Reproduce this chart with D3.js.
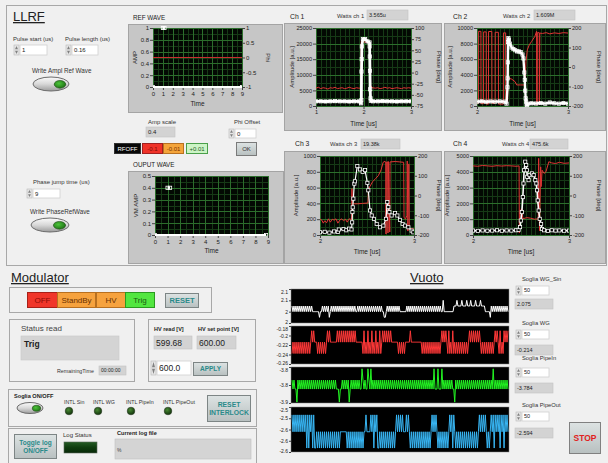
<!DOCTYPE html>
<html>
<head>
<meta charset="utf-8">
<script src="https://cdn.jsdelivr.net/npm/d3@7"></script>
<style>
html, body { margin: 0; padding: 0; background: #f0f0f0; }
svg { display: block; }
</style>
</head>
<body>
<script>
// ---------------- data ----------------
// Reference / output waves (time in us)
const refAmpPoints = [[1.0, 1], [1.16, 1], null, [0, 0], [9, 0]];
const refPhiPoints = [[0, 0], [9, 0]];
const outAmpPoints = [[1.0, 0.4], [1.2, 0.4], null, [0, 0], [8.85, 0]];
const refTimeTicks = [0, 1, 2, 3, 4, 5, 6, 7, 8, 9];
const refAmpTicks = [0, 0.2, 0.4, 0.6, 0.8, 1];
const refPhiTicks = [-1, -0.5, 0, 0.5, 1];
const outAmpTicks = [0, 0.1, 0.2, 0.3, 0.4, 0.5];

// Channel 1..4 pulses: [time us, amplitude a.u.] and [time us, phase deg]
const ch1AmpPoints = [[1.00,1500],[1.10,1500],[1.20,1450],[1.30,1500],[1.40,1550],[1.50,1500],[1.60,1500],[1.70,1450],[1.80,1500],[1.90,1500],[1.951,860],[1.955,1930],[1.958,11050],[1.962,15020],[1.965,19100],[1.986,21460],[2.035,21460],[2.085,20710],[2.127,20390],[2.129,19100],[2.132,15880],[2.136,11270],[2.141,5360],[2.148,2470],[2.155,1610],[2.20,1500],[2.30,1500],[2.40,1550],[2.50,1500],[2.60,1500],[2.70,1450],[2.80,1500],[2.90,1500],[3.00,1500]];
const ch1PhasePoints = [[1.00,-35],[1.05,-33],[1.10,-36],[1.15,-34],[1.20,-35],[1.25,-37],[1.30,-34],[1.35,-35],[1.40,-33],[1.45,-36],[1.50,-35],[1.55,-34],[1.60,-36],[1.65,-35],[1.70,-33],[1.75,-35],[1.80,-36],[1.85,-34],[1.90,-35],[1.945,-35],[1.952,70],[1.97,68],[2.00,69],[2.05,68],[2.10,67],[2.125,68],[2.14,-35],[2.16,-30],[2.18,-34],[2.25,-35],[2.30,-34],[2.35,-36],[2.40,-35],[2.45,-33],[2.50,-35],[2.55,-34],[2.60,-36],[2.65,-35],[2.70,-34],[2.75,-35],[2.80,-36],[2.85,-34],[2.90,-35],[2.95,-34],[3.00,-35]];
const ch2AmpPoints = [[2.00,560],[2.05,600],[2.10,550],[2.15,580],[2.20,560],[2.25,590],[2.30,560],[2.325,300],[2.335,2400],[2.337,3550],[2.339,5600],[2.341,8200],[2.345,8700],[2.35,8500],[2.36,8000],[2.38,7500],[2.40,7300],[2.42,7150],[2.44,7000],[2.46,7000],[2.48,6900],[2.50,6600],[2.51,6100],[2.52,4300],[2.525,3350],[2.53,1970],[2.535,990],[2.54,560],[2.545,200],[2.55,50],[2.56,300],[2.60,350],[2.65,320],[2.70,380],[2.75,300],[2.80,450],[2.85,350],[2.90,300],[2.95,380],[3.00,300]];
const ch2PhasePoints = [[2.000,-185],[2.017,-185],[2.018,183],[2.043,183],[2.044,-188],[2.072,-188],[2.073,180],[2.101,180],[2.102,-190],[2.126,-190],[2.127,182],[2.163,182],[2.164,-186],[2.199,-186],[2.200,178],[2.235,178],[2.236,-190],[2.290,-190],[2.291,175],[2.315,175],[2.316,-170],[2.337,-175],[2.340,20],[2.345,-57],[2.38,-62],[2.418,-75],[2.436,-92],[2.48,-92],[2.527,-92],[2.538,28],[2.553,88],[2.575,114],[2.600,131],[2.636,157],[2.655,183],[2.656,-195],[2.662,-195],[2.663,176],[2.684,176],[2.685,-195],[2.690,174],[2.72,172],[2.76,176],[2.80,170],[2.85,175],[2.90,172],[2.95,176],[3.000,174]];
const ch3AmpPoints = [[2.00,35],[2.05,40],[2.10,30],[2.15,45],[2.19,40],[2.20,70],[2.25,75],[2.28,60],[2.31,80],[2.335,70],[2.342,160],[2.345,290],[2.348,350],[2.355,460],[2.365,650],[2.372,680],[2.397,872],[2.426,830],[2.454,800],[2.479,821],[2.504,660],[2.514,566],[2.532,311],[2.55,247],[2.574,204],[2.603,140],[2.638,98],[2.674,119],[2.702,204],[2.716,417],[2.727,353],[2.738,289],[2.762,247],[2.798,277],[2.823,247],[2.851,191],[2.879,140],[2.904,119],[2.94,98],[2.975,55],[2.993,34]];
const ch3PhasePoints = [[2.00,-120],[2.02,-125],[2.035,-140],[2.05,-128],[2.07,-138],[2.09,-118],[2.11,-135],[2.13,-120],[2.15,-125],[2.17,-118],[2.19,-140],[2.21,-125],[2.23,-118],[2.25,-128],[2.27,-120],[2.29,-135],[2.31,-118],[2.335,-122],[2.340,35],[2.343,-20],[2.35,-42],[2.40,-42],[2.45,-40],[2.51,-38],[2.515,30],[2.53,45],[2.56,70],[2.59,85],[2.62,100],[2.65,130],[2.67,165],[2.68,172],[2.70,170],[2.702,-195],[2.705,168],[2.72,170],[2.723,-190],[2.727,172],[2.742,-185],[2.745,170],[2.80,172],[2.85,170],[2.89,168],[2.894,-110],[2.91,-120],[2.925,-100],[2.928,175],[2.935,-180],[2.945,160],[2.95,-170],[2.97,-168],[3.00,-170]];
const ch4AmpPoints = [[2.00,280],[2.05,260],[2.10,290],[2.15,270],[2.20,280],[2.25,300],[2.30,270],[2.35,290],[2.40,280],[2.45,300],[2.475,330],[2.49,500],[2.498,915],[2.509,1450],[2.519,2400],[2.526,3260],[2.533,4100],[2.544,4640],[2.554,4430],[2.561,4100],[2.565,3680],[2.579,3470],[2.589,3790],[2.614,3900],[2.632,3790],[2.649,3470],[2.66,3260],[2.667,2830],[2.674,2190],[2.684,1550],[2.695,1020],[2.709,700],[2.719,380],[2.74,300],[2.78,260],[2.82,300],[2.86,280],[2.90,290],[2.95,270],[3.00,280]];
const ch4PhasePoints = [[2.00,150],[2.05,148],[2.10,152],[2.15,150],[2.20,148],[2.25,151],[2.30,149],[2.35,151],[2.40,150],[2.45,148],[2.48,150],[2.483,-190],[2.49,-84],[2.505,-67],[2.52,-118],[2.56,-112],[2.60,-115],[2.64,-120],[2.68,-118],[2.684,188],[2.693,-178],[2.705,145],[2.71,45],[2.72,128],[2.74,112],[2.76,120],[2.79,171],[2.82,165],[2.86,162],[2.90,168],[2.95,163],[3.00,165]];

const ch1TimeTicks = [1, 2, 3];
const chTimeTicks = [2, 3];
const ch1AmpTicks = [0, 5000, 10000, 15000, 20000, 25000];
const ch1PhaseTicks = [-75, -50, -25, 0, 25, 50, 75, 100];
const ch2AmpTicks = [0, 2000, 4000, 6000, 8000, 10000];
const ch3AmpTicks = [0, 200, 400, 600, 800, 1000];
const ch4AmpTicks = [0, 1000, 2000, 3000, 4000, 5000];
const chPhaseTicks = [-200, -100, 0, 100, 200];

// Vacuum strip charts: one character per sample, indexing the level list
const vacTimeTicks = [74391, 77391];
const wgSinLevels = [2.07, 2.075, 2.08, 2.085];
const wgSinTrace = "2121212121212121212121" + "111111" + "01" + "12121212" + "01" +
  "2121212121212121212121212" + "1121212121212121212121212121" + "1001" + "21212121212121" + "111111" +
  "212121212121212121212121212121212121" + "13" + "1111111111" + "22232222322223222322223222232222" +
  "1111" + "10" + "212121212121212121";
const wgSinTicks = [2.095, 2.085, 2.075, 2.065];
const wgSinTickLabels = ["2.1", "2.1", "2", "2"];

const wgLevels = [-0.238, -0.214, -0.19];
const wgTrace = "01010101010101010101" + "2121" + "11" + "0101010101" + "2121" + "111111" + "21212121212121212121" +
  "111111" + "02010201020102010201" + "2121" + "212121" + "111111" + "01010101" + "1111211111111111" +
  "01010101010101010101" + "21212102010201" + "01010101010101" + "212121212121" + "01010101010101" + "21210201021212";
const wgTicks = [-0.18, -0.2, -0.22, -0.24, -0.26];
const wgTickLabels = ["-0.18", "-0.2", "-0.22", "-0.24", "-0.26"];

const pipeInLevels = [-3.848, -3.819, -3.799, -3.774];
const pipeInTrace = "2121" + "10" + "2121212121212121212121212121212121212121" + "11" + "01" + "12121212" + "01" +
  "2121212121" + "13" + "2121" + "13" + "21" + "31" +
  "2121212121" + "2121212121" + "2121212121" + "2121212121" + "2121212121" + "2121212121" + "21" +
  "31" + "11" + "31" + "11" + "31" + "2121212121" + "10" + "21212121212121212121212121212121212121" + "31" + "21212121212121";
const pipeInTicks = [-3.77, -3.81, -3.85];
const pipeInTickLabels = ["-3.8", "-3.8", "-3.9"];

const pipeOutLevels = [-2.626, -2.568, -2.508];
const pipeOutTrace = "212121212121" + "212020212020" + "01010101010101010101010101" + "111111" + "010101010101010101" +
  "12" + "1111" + "21202120" + "010101010101010101" + "21212121" + "11" + "2121" + "0101010101010101010101" +
  "212121" + "010101010101" + "212021" + "010101010101010101010101" + "21212121" + "0101" + "212021212021202121";
const pipeOutTicks = [-2.48, -2.52, -2.56, -2.60, -2.64];
const pipeOutTickLabels = ["-2.5", "-2.5", "-2.6", "-2.6", "-2.6"];

// ---------------- drawing helpers ----------------
const FONT = "'Liberation Sans', Arial, sans-serif";
const svg = d3.select("body").append("svg")
  .attr("width", 608).attr("height", 463)
  .style("font-family", FONT);
const defs = svg.append("defs");

svg.append("rect").attr("width", 608).attr("height", 463).attr("fill", "#f0f0f0");

function gradient(id, stops, vertical = true) {
  const lg = defs.append("linearGradient").attr("id", id)
    .attr("x1", 0).attr("y1", 0).attr("x2", vertical ? 0 : 1).attr("y2", vertical ? 1 : 0);
  stops.forEach(([o, c]) => lg.append("stop").attr("offset", o).attr("stop-color", c));
}
gradient("btnOval", [[0, "#fbfbfb"], [0.5, "#d8d8d8"], [1, "#9c9c9c"]]);
gradient("btnFlat", [[0, "#dde3e3"], [1, "#b8c0c0"]]);
gradient("logBar", [[0, "#245c24"], [0.5, "#0f3c0f"], [1, "#082808"]]);
const rg = defs.append("radialGradient").attr("id", "ledOff").attr("cx", 0.4).attr("cy", 0.35).attr("r", 0.7);
rg.append("stop").attr("offset", 0).attr("stop-color", "#4a8a34");
rg.append("stop").attr("offset", 1).attr("stop-color", "#0d2e08");
const rg2 = defs.append("radialGradient").attr("id", "ledOn").attr("cx", 0.4).attr("cy", 0.4).attr("r", 0.7);
rg2.append("stop").attr("offset", 0).attr("stop-color", "#4cc43a");
rg2.append("stop").attr("offset", 1).attr("stop-color", "#1a6a12");

function label(x, y, s, size, o = {}) {
  const t = svg.append("text").attr("x", x).attr("y", y)
    .attr("font-size", size).attr("fill", o.color || "#333").text(s);
  if (o.anchor) t.attr("text-anchor", o.anchor);
  if (o.bold) t.attr("font-weight", "bold");
  if (o.underline) t.attr("text-decoration", "underline");
  return t;
}
function rect(x, y, w, h, fill, stroke, sw = 1) {
  return svg.append("rect").attr("x", x).attr("y", y).attr("width", w).attr("height", h)
    .attr("fill", fill).attr("stroke", stroke || "none").attr("stroke-width", sw);
}
function numCtrl(x, y, w, h, val, size = 6) {
  rect(x, y, 5, h, "#e6e6e6", "#b8b8b8", 0.6);
  svg.append("path").attr("d", `M${x + 1},${y + h / 2 - 0.8}L${x + 2.5},${y + 1}L${x + 4},${y + h / 2 - 0.8}Z`).attr("fill", "#808080");
  svg.append("path").attr("d", `M${x + 1},${y + h / 2 + 0.8}L${x + 2.5},${y + h - 1}L${x + 4},${y + h / 2 + 0.8}Z`).attr("fill", "#808080");
  rect(x + 6, y, w - 6, h, "#ffffff", "#d0d0d0", 0.8);
  label(x + 8, y + h / 2 + size * 0.36, val, size, { color: "#222" });
}
function indicator(x, y, w, h, val, size = 5.5) {
  rect(x, y, w, h, "#d3d3d3", "#c4c4c4", 0.6);
  label(x + 2, y + h / 2 + size * 0.36, val, size, { color: "#222" });
}
function button(x, y, w, h, lines, fill, color, size, o = {}) {
  rect(x + 0.5, y + 0.5, w, h, fill, o.stroke || "#7d8585", o.sw || 1);
  const n = lines.length, lh = size * 1.15;
  lines.forEach((s, i) => {
    label(x + w / 2 + 0.5, y + h / 2 + 0.5 + (i - (n - 1) / 2) * lh + size * 0.36, s, size,
      { anchor: "middle", color, bold: o.bold });
  });
}
function ovalButton(cx, cy, rx, ry) {
  svg.append("ellipse").attr("cx", cx).attr("cy", cy).attr("rx", rx).attr("ry", ry)
    .attr("fill", "url(#btnOval)").attr("stroke", "#6c6c6c").attr("stroke-width", 1);
  svg.append("ellipse").attr("cx", cx + rx * 0.5).attr("cy", cy + 0.3).attr("rx", rx * 0.32).attr("ry", ry * 0.55)
    .attr("fill", "url(#ledOn)").attr("stroke", "#1c4a14").attr("stroke-width", 0.6);
}
function led(cx, cy, r) {
  svg.append("circle").attr("cx", cx).attr("cy", cy).attr("r", r)
    .attr("fill", "url(#ledOff)").attr("stroke", "#2a3a24").attr("stroke-width", 0.6);
}
function styleAxis(g, size) {
  g.attr("font-family", FONT).attr("font-size", size);
  g.select(".domain").remove();
  g.selectAll("line").attr("stroke", "#444");
  g.selectAll("text").attr("fill", "#222");
}

let clipId = 0;
function graph(o) {
  const [fx, fy, fw, fh] = o.frame;
  const [px, py, pw, ph] = o.plot;
  const g = svg.append("g");
  g.append("rect").attr("x", fx + 0.5).attr("y", fy + 0.5).attr("width", fw).attr("height", fh)
    .attr("fill", "#c6c6c6").attr("stroke", "#a4a4a4");
  const x = d3.scaleLinear().domain(o.xDomain).range([px, px + pw]);
  const y = d3.scaleLinear().domain(o.yDomain).range([py + ph, py]);
  const y2 = o.y2Domain ? d3.scaleLinear().domain(o.y2Domain).range([py + ph, py]) : null;
  g.append("rect").attr("x", px).attr("y", py).attr("width", pw).attr("height", ph).attr("fill", "#030903");

  const grid = g.append("g").attr("shape-rendering", "crispEdges");
  const drawV = (vals, c) => vals.forEach(v => grid.append("line")
    .attr("x1", Math.round(x(v)) + 0.5).attr("x2", Math.round(x(v)) + 0.5).attr("y1", py).attr("y2", py + ph).attr("stroke", c));
  const drawH = (vals, c) => vals.forEach(v => grid.append("line")
    .attr("y1", Math.round(y(v)) + 0.5).attr("y2", Math.round(y(v)) + 0.5).attr("x1", px).attr("x2", px + pw).attr("stroke", c));
  drawV(d3.range(o.xDomain[0], o.xDomain[1] + 1e-9, o.xMinor), "#163a16");
  drawH(d3.range(o.yDomain[0], o.yDomain[1] + 1e-9, o.yMinor), "#163a16");
  drawV(o.xTicks, "#2c6e2c");
  drawH(o.yTicks, "#2c6e2c");

  const ax = g.append("g").attr("transform", `translate(0,${py + ph})`)
    .call(d3.axisBottom(x).tickValues(o.xTicks).tickSize(3).tickPadding(1.5).tickFormat(d => String(d)));
  styleAxis(ax, o.tickSize || 6);
  const ay = g.append("g").attr("transform", `translate(${px},0)`)
    .call(d3.axisLeft(y).tickValues(o.yTicks).tickSize(3).tickPadding(1).tickFormat(o.yFormat || (d => String(d))));
  styleAxis(ay, o.tickSize || 6);
  if (y2) {
    const ay2 = g.append("g").attr("transform", `translate(${px + pw},0)`)
      .call(d3.axisRight(y2).tickValues(o.y2Ticks).tickSize(3).tickPadding(1).tickFormat(d => String(d)));
    styleAxis(ay2, o.tickSize || 6);
  }
  const cy = py + ph / 2;
  g.append("text").attr("transform", `translate(${o.yLabelX},${cy}) rotate(-90)`)
    .attr("text-anchor", "middle").attr("font-size", 6).attr("fill", "#222").text(o.yLabel);
  if (o.y2Label) {
    g.append("text").attr("transform", `translate(${o.y2LabelX},${cy}) rotate(90)`)
      .attr("text-anchor", "middle").attr("font-size", 6).attr("fill", "#222").text(o.y2Label);
  }
  g.append("text").attr("x", px + pw / 2).attr("y", o.xLabelY).attr("text-anchor", "middle")
    .attr("font-size", 6.5).attr("fill", "#222").text(o.xLabel);

  const id = "clip" + (clipId++);
  defs.append("clipPath").attr("id", id).append("rect")
    .attr("x", px).attr("y", py - 2).attr("width", pw).attr("height", ph + 3);
  const sg = g.append("g").attr("clip-path", `url(#${id})`);
  o.series.forEach(s => {
    const sc = s.axis === "y2" ? y2 : y;
    const line = d3.line().defined(d => d !== null).x(d => x(d[0])).y(d => sc(d[1]));
    sg.append("path").datum(s.data).attr("d", line).attr("fill", "none")
      .attr("stroke", s.color).attr("stroke-width", s.width).attr("stroke-linejoin", "round");
    if (s.markers) {
      sg.selectAll(null).data(s.data.filter(d => d !== null)).join("rect")
        .attr("x", d => x(d[0]) - 1.6).attr("y", d => sc(d[1]) - 1.6)
        .attr("width", 3.2).attr("height", 3.2)
        .attr("fill", s.markerFill || "none").attr("stroke", "#fff").attr("stroke-width", 0.8);
    }
  });
}

// ---------------- LLRF panel ----------------
rect(6.5, 5.5, 600, 260, "none", "#a8a8a8");
label(13, 21, "LLRF", 13, { color: "#222", underline: true });

label(13, 41, "Pulse start (us)", 6);
numCtrl(14, 45, 33, 10, "1");
label(65, 41, "Pulse length (us)", 6);
numCtrl(66, 45, 32, 10, "0.16");
label(32, 73, "Write Ampl Ref Wave", 6.3);
ovalButton(51, 84, 18, 7);

label(133, 20, "REF WAVE", 6.3, { color: "#222" });
graph({
  frame: [128, 24, 154, 88], plot: [153, 28, 89, 59],
  xDomain: [0, 9], xTicks: refTimeTicks, xMinor: 0.5,
  yDomain: [0, 1], yTicks: refAmpTicks, yMinor: 0.1,
  y2Domain: [-1, 1], y2Ticks: refPhiTicks,
  yLabel: "AMP", yLabelX: 137, y2Label: "Phi", y2LabelX: 266,
  xLabel: "Time", xLabelY: 106,
  series: [
    { data: refPhiPoints, axis: "y2", color: "#c83030", width: 1.2 },
    { data: refAmpPoints, axis: "y", color: "#ffffff", width: 2, markers: true }
  ]
});

label(148, 124, "Amp scale", 6);
indicator(146, 127, 29, 10, "0.4", 6);
label(234, 124, "Phi Offset", 6);
numCtrl(229, 129, 27, 9, "0");
button(114, 143, 26, 10, ["RFOFF"], "#080808", "#ffffff", 6, { stroke: "#303030" });
button(142, 143, 20, 10, ["-0.1"], "#ef3228", "#7a0a06", 6, { stroke: "#a02020" });
button(163, 143, 20, 10, ["-0.01"], "#f4a43a", "#7a3200", 6, { stroke: "#b87020" });
button(186, 143, 21, 10, ["+0.01"], "#ccf4c6", "#1f5c1f", 6, { stroke: "#4aa04a" });
button(236, 142, 20, 13, ["OK"], "url(#btnFlat)", "#333", 6, { stroke: "#7a7a7a" });

label(133, 167, "OUPUT WAVE", 6.3, { color: "#222" });
graph({
  frame: [128, 171, 155, 92], plot: [155, 176, 113, 59],
  xDomain: [0, 9], xTicks: refTimeTicks, xMinor: 0.5,
  yDomain: [0, 0.5], yTicks: outAmpTicks, yMinor: 0.05,
  yLabel: "VM AMP", yLabelX: 138,
  xLabel: "Time", xLabelY: 253,
  series: [
    { data: outAmpPoints, axis: "y", color: "#ffffff", width: 2, markers: true }
  ]
});

label(33, 184, "Phase jump time (us)", 6);
numCtrl(27, 189, 33, 9, "9");
label(30, 214, "Write PhaseRefWave", 6.3);
ovalButton(50, 225, 19, 7);

// Channel graphs
label(290, 19, "Ch 1", 6.8, { color: "#222" });
label(337, 18, "Watts ch 1", 5.8);
indicator(367, 10, 41, 10, "3.565u");
graph({
  frame: [284, 23, 157, 107], plot: [316, 28, 95, 78],
  xDomain: [1, 3], xTicks: ch1TimeTicks, xMinor: 0.1,
  yDomain: [0, 25000], yTicks: ch1AmpTicks, yMinor: 2500,
  y2Domain: [-75, 100], y2Ticks: ch1PhaseTicks,
  yLabel: "Amplitude [a.u.]", yLabelX: 294, y2Label: "Phase [deg]", y2LabelX: 437,
  xLabel: "Time [us]", xLabelY: 126, tickSize: 5.6,
  series: [
    { data: ch1PhasePoints, axis: "y2", color: "#e03434", width: 1 },
    { data: ch1AmpPoints, axis: "y", color: "#ffffff", width: 2.8, markers: true }
  ]
});

label(453, 19, "Ch 2", 6.8, { color: "#222" });
label(503, 18, "Watts ch 2", 5.8);
indicator(534, 10, 41, 10, "1.609M");
graph({
  frame: [444, 23, 161, 107], plot: [477, 28, 91, 78],
  xDomain: [2, 3], xTicks: chTimeTicks, xMinor: 0.05,
  yDomain: [0, 10000], yTicks: ch2AmpTicks, yMinor: 1000,
  y2Domain: [-200, 200], y2Ticks: chPhaseTicks,
  yLabel: "Amplitude [a.u.]", yLabelX: 452, y2Label: "Phase [deg]", y2LabelX: 597,
  xLabel: "Time [us]", xLabelY: 126, tickSize: 5.6,
  series: [
    { data: ch2PhasePoints, axis: "y2", color: "#e03434", width: 1 },
    { data: ch2AmpPoints, axis: "y", color: "#ffffff", width: 2.4, markers: true }
  ]
});

label(295, 146, "Ch 3", 6.8, { color: "#222" });
label(330, 146, "Watts ch 3", 5.8);
indicator(361, 139, 39, 10, "19.38k");
graph({
  frame: [284, 151, 157, 112], plot: [320, 156, 94, 79],
  xDomain: [2, 3], xTicks: chTimeTicks, xMinor: 0.05,
  yDomain: [0, 1000], yTicks: ch3AmpTicks, yMinor: 100,
  y2Domain: [-200, 200], y2Ticks: chPhaseTicks,
  yLabel: "Amplitude [a.u.]", yLabelX: 298, y2Label: "Phase [deg]", y2LabelX: 437,
  xLabel: "Time [us]", xLabelY: 254, tickSize: 5.6,
  series: [
    { data: ch3PhasePoints, axis: "y2", color: "#e03434", width: 1 },
    { data: ch3AmpPoints, axis: "y", color: "#ffffff", width: 1.2, markers: true, markerFill: "#000" }
  ]
});

label(453, 146, "Ch 4", 6.8, { color: "#222" });
label(502, 146, "Watts ch 4", 5.8);
indicator(530, 139, 38, 10, "475.6k");
graph({
  frame: [444, 151, 161, 112], plot: [473, 156, 96, 79],
  xDomain: [2, 3], xTicks: chTimeTicks, xMinor: 0.05,
  yDomain: [0, 5000], yTicks: ch4AmpTicks, yMinor: 500,
  y2Domain: [-200, 200], y2Ticks: chPhaseTicks,
  yLabel: "Amplitude [a.u.]", yLabelX: 449, y2Label: "Phase [deg]", y2LabelX: 597,
  xLabel: "Time [us]", xLabelY: 254, tickSize: 5.6,
  series: [
    { data: ch4PhasePoints, axis: "y2", color: "#e03434", width: 1 },
    { data: ch4AmpPoints, axis: "y", color: "#ffffff", width: 1.6, markers: true, markerFill: "#000" }
  ]
});

// ---------------- Modulator panel ----------------
label(11, 282, "Modulator", 13, { color: "#222", underline: true });
rect(9.5, 287.5, 202, 25, "none", "#a8a8a8");
button(27, 292, 30, 15, ["OFF"], "#f0362a", "#8a0c06", 8, { stroke: "#a82018" });
button(57, 292, 38, 15, ["StandBy"], "#f6a23e", "#6a3000", 8, { stroke: "#b87020" });
button(96, 292, 29, 15, ["HV"], "#f6a23e", "#6a3000", 8, { stroke: "#b87020" });
button(125, 292, 29, 15, ["Trig"], "#52e640", "#1a5a10", 8, { stroke: "#2a9a20" });
button(165, 293, 33, 14, ["RESET"], "url(#btnFlat)", "#2a8a8a", 7.5, { bold: true });

rect(9.5, 319.5, 125, 62, "none", "#a8a8a8");
label(21, 331, "Status read", 8, { color: "#444" });
rect(21, 336, 98, 24, "#d4d4d4", "#c8c8c8", 0.6);
label(24, 347, "Trig", 8.5, { color: "#222", bold: true });
label(57, 373, "RemainingTime", 5.3);
indicator(99, 366, 27, 9, "00:00:00", 5);

rect(148.5, 319.5, 107, 62, "none", "#a8a8a8");
label(154, 331, "HV read [V]", 5.5, { color: "#222", bold: true });
label(198, 331, "HV set point [V]", 5.5, { color: "#222", bold: true });
indicator(154, 336, 38, 13, "599.68", 8.5);
indicator(197, 336, 39, 13, "600.00", 8.5);
numCtrl(151, 361, 40, 14, "600.0", 8.5);
button(193, 362, 34, 13, ["APPLY"], "url(#btnFlat)", "#2a8a8a", 6.5, { bold: true });

rect(8.5, 389.5, 248, 37, "none", "#a8a8a8");
label(14, 398, "Soglia ON/OFF", 5.6, { color: "#222", bold: true });
ovalButton(30, 408, 13, 5.5);
[["INTL Sin", 64, 69], ["INTL WG", 93, 98], ["INTL PipeIn", 126, 131], ["INTL PipeOut", 163, 168]]
  .forEach(([s, tx, lx]) => { label(tx, 404, s, 5.3); led(lx, 411, 3.8); });
button(207, 395, 43, 26, ["RESET", "INTERLOCK"], "url(#btnFlat)", "#2a8a8a", 6.8, { bold: true });

rect(8.5, 428.5, 248, 40, "none", "#a8a8a8");
button(14, 434, 42, 24, ["Toggle log", "ON/OFF"], "url(#btnFlat)", "#2a8a8a", 6.5, { bold: true });
label(63, 437, "Log Status", 6);
rect(64, 442, 33, 11, "url(#logBar)", "#5a6a5a", 0.6);
label(117, 435, "Current log file", 5.6, { color: "#222", bold: true });
rect(115, 439, 136, 20, "#d4d4d4", "#c0c0c0", 0.6);
label(117, 452, "%", 5, { color: "#444" });

// ---------------- Vacuum strip charts ----------------
label(410, 282, "Vuoto", 13, { color: "#222", underline: true });

const stripLeft = 291, stripRight = 509;
const strips = [
  { trace: wgSinTrace, levels: wgSinLevels, ticks: wgSinTicks, labels: wgSinTickLabels, color: "#ffffff", top: 289, bottom: 323 },
  { trace: wgTrace, levels: wgLevels, ticks: wgTicks, labels: wgTickLabels, color: "#ff3838", top: 326, bottom: 364 },
  { trace: pipeInTrace, levels: pipeInLevels, ticks: pipeInTicks, labels: pipeInTickLabels, color: "#22f522", top: 367, bottom: 403 },
  { trace: pipeOutTrace, levels: pipeOutLevels, ticks: pipeOutTicks, labels: pipeOutTickLabels, color: "#38b6f4", top: 407, bottom: 452 }
];
strips.forEach(s => {
  const vals = Array.from(s.trace, c => s.levels[+c]);
  const x = d3.scaleLinear().domain([0, vals.length - 1]).range([stripLeft + 1, stripRight - 1]);
  const y = d3.scaleLinear().domain(d3.extent(s.ticks)).range([s.bottom, s.top]);
  rect(stripLeft, s.top, stripRight - stripLeft, s.bottom - s.top, "#000", "#888", 0.5);
  svg.append("path").datum(vals)
    .attr("d", d3.line().x((d, i) => x(i)).y(d => y(d)))
    .attr("fill", "none").attr("stroke", s.color).attr("stroke-width", 1);
  const ay = svg.append("g").attr("transform", `translate(${stripLeft},0)`)
    .call(d3.axisLeft(y).tickValues(s.ticks).tickSize(2).tickPadding(1).tickFormat((d, i) => s.labels[i]));
  styleAxis(ay, 5);
  // keep the end labels inside the panel height
  const n = s.ticks.length;
  ay.selectAll("text").attr("dy", (d, i) => i === 0 && s.ticks[0] > s.ticks[n - 1] ? "0.95em" : (i === n - 1 ? "0.05em" : "0.32em"));
});
defs.append("clipPath").attr("id", "vacAxisClip").append("rect")
  .attr("x", 270).attr("y", 450).attr("width", 241).attr("height", 13);
const vacTime = d3.scaleLinear().domain(d3.extent(vacTimeTicks)).range([stripLeft + 1, stripRight]);
const tax = svg.append("g").attr("transform", `translate(0,452)`).attr("clip-path", "url(#vacAxisClip)")
  .call(d3.axisBottom(vacTime).tickValues(vacTimeTicks).tickSize(2).tickPadding(1).tickFormat(d => String(d)));
styleAxis(tax, 5.3);

// Threshold controls
[["Soglia WG_Sin", 281, 286, 299, "2.075"], ["Soglia WG", 325, 330, 345, "-0.214"],
 ["Soglia PipeIn", 360, 368, 383, "-3.784"], ["Soglia PipeOut", 407, 412, 428, "-2.594"]]
  .forEach(([name, ly, ny, iy, v]) => {
    label(522, ly, name, 5.8);
    numCtrl(516, ny, 33, 9, "50", 5.5);
    indicator(515, iy, 38, 10, v, 5.5);
  });
button(569, 422, 31, 31, ["STOP"], "url(#btnFlat)", "#e02020", 8.5, { bold: true, stroke: "#808080" });
</script>
</body>
</html>
